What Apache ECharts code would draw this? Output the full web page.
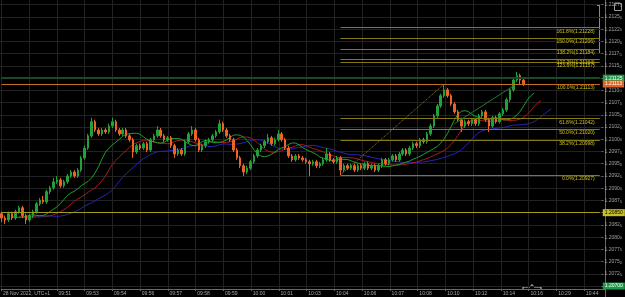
<!DOCTYPE html>
<html><head><meta charset="utf-8">
<script src="https://cdn.jsdelivr.net/npm/echarts@6/dist/echarts.min.js"></script>
<style>html,body{margin:0;padding:0;background:#000;}#c{width:625px;height:297px;}</style>
</head><body><div id="c"></div>
<script>
const dateLabel = '28 Nov 2022, UTC+1';
const timeLabels = ['09:51','09:53','09:54','09:56','09:57','09:58','09:59','10:00','10:01','10:03','10:04','10:06','10:07','10:08','10:10','10:12','10:14','10:16','10:29','10:44'];
const barCount = 174, firstLabelBar = 16, labelEvery = 8;
const priceMin = 1.20700, priceMax = 1.212847, priceStep = 0.00025;

const opens = [
1.20848,1.20839,1.20835,1.20848,1.20839,1.20852,1.20860,1.20844,1.20835,1.20844,
1.20852,1.20868,1.20876,1.20872,1.20893,1.20901,1.20913,1.20917,1.20905,1.20913,
1.20925,1.20933,1.20925,1.20937,1.20962,1.20982,1.21007,1.21036,1.21019,1.21011,
1.21019,1.21015,1.21027,1.21036,1.21019,1.21011,1.21019,1.21007,1.20999,1.20974,
1.20987,1.20982,1.20991,1.20978,1.20999,1.21007,1.21019,1.21007,1.20999,1.21003,
1.20987,1.20970,1.20978,1.20970,1.20995,1.21011,1.21019,1.20999,1.20978,1.20987,
1.20995,1.20999,1.21007,1.21015,1.21032,1.21019,1.21007,1.20999,1.20978,1.20962,
1.20946,1.20933,1.20941,1.20954,1.20966,1.20978,1.20987,1.20995,1.21003,1.20991,
1.20999,1.21011,1.20999,1.20982,1.20966,1.20958,1.20966,1.20962,1.20958,1.20954,
1.20950,1.20954,1.20946,1.20950,1.20958,1.20970,1.20958,1.20954,1.20962,1.20937,
1.20946,1.20941,1.20946,1.20937,1.20946,1.20941,1.20950,1.20941,1.20946,1.20937,
1.20946,1.20958,1.20950,1.20958,1.20966,1.20958,1.20970,1.20978,1.20970,1.20982,
1.20991,1.20987,1.20999,1.20995,1.21011,1.21027,1.21048,1.21068,1.21089,1.21101,
1.21089,1.21072,1.21056,1.21040,1.21027,1.21036,1.21032,1.21040,1.21032,1.21048,
1.21056,1.21040,1.21027,1.21044,1.21036,1.21052,1.21060,1.21081,1.21101,1.21121,
1.21130,1.21121];
const highs = [
1.20852,1.20844,1.20852,1.20852,1.20856,1.20864,1.20864,1.20848,1.20848,1.20856,
1.20872,1.20880,1.20884,1.20897,1.20905,1.20921,1.20925,1.20921,1.20917,1.20929,
1.20937,1.20937,1.20941,1.20966,1.20987,1.21011,1.21044,1.21040,1.21023,1.21023,
1.21023,1.21032,1.21044,1.21040,1.21023,1.21023,1.21023,1.21011,1.21003,1.20991,
1.20991,1.20995,1.20995,1.21003,1.21011,1.21027,1.21023,1.21011,1.21007,1.21007,
1.20991,1.20982,1.20982,1.20999,1.21015,1.21027,1.21023,1.21003,1.20991,1.20999,
1.21003,1.21011,1.21019,1.21040,1.21036,1.21023,1.21011,1.21003,1.20982,1.20966,
1.20950,1.20946,1.20958,1.20970,1.20982,1.20991,1.20999,1.21011,1.21007,1.21003,
1.21019,1.21015,1.21003,1.20987,1.20970,1.20970,1.20970,1.20966,1.20962,1.20958,
1.20958,1.20958,1.20954,1.20962,1.20982,1.20974,1.20962,1.20966,1.20966,1.20950,
1.20950,1.20950,1.20950,1.20950,1.20950,1.20954,1.20954,1.20950,1.20950,1.20950,
1.20962,1.20962,1.20962,1.20970,1.20970,1.20974,1.20982,1.20982,1.20987,1.20995,
1.20995,1.21003,1.21003,1.21015,1.21032,1.21052,1.21072,1.21093,1.21113,1.21105,
1.21093,1.21076,1.21060,1.21044,1.21040,1.21040,1.21044,1.21044,1.21052,1.21060,
1.21060,1.21044,1.21048,1.21048,1.21056,1.21064,1.21085,1.21105,1.21125,1.21138,
1.21134,1.21125];
const lows = [
1.20831,1.20827,1.20831,1.20835,1.20835,1.20848,1.20839,1.20827,1.20831,1.20839,
1.20848,1.20864,1.20868,1.20868,1.20888,1.20897,1.20909,1.20901,1.20901,1.20909,
1.20921,1.20921,1.20921,1.20933,1.20958,1.20978,1.21003,1.21015,1.21007,1.21007,
1.21011,1.21011,1.21023,1.21015,1.21007,1.21007,1.21003,1.20995,1.20962,1.20970,
1.20978,1.20978,1.20974,1.20974,1.20995,1.21003,1.21003,1.20995,1.20995,1.20982,
1.20962,1.20966,1.20966,1.20966,1.20991,1.21007,1.20995,1.20974,1.20974,1.20982,
1.20991,1.20995,1.21003,1.21011,1.21015,1.21003,1.20995,1.20974,1.20958,1.20941,
1.20925,1.20929,1.20937,1.20950,1.20962,1.20974,1.20982,1.20991,1.20987,1.20987,
1.20995,1.20995,1.20978,1.20962,1.20954,1.20954,1.20958,1.20954,1.20950,1.20925,
1.20946,1.20941,1.20941,1.20946,1.20954,1.20954,1.20950,1.20950,1.20927,1.20933,
1.20937,1.20937,1.20933,1.20933,1.20937,1.20937,1.20937,1.20937,1.20933,1.20933,
1.20941,1.20946,1.20946,1.20954,1.20954,1.20954,1.20966,1.20966,1.20966,1.20978,
1.20982,1.20982,1.20991,1.20991,1.21007,1.21023,1.21044,1.21064,1.21085,1.21085,
1.21068,1.21052,1.21036,1.21015,1.21023,1.21027,1.21027,1.21027,1.21027,1.21044,
1.21036,1.21015,1.21023,1.21032,1.21032,1.21048,1.21056,1.21076,1.21097,1.21117,
1.21113,1.21109];
const closes = [
1.20839,1.20835,1.20848,1.20839,1.20852,1.20860,1.20844,1.20835,1.20844,1.20852,
1.20868,1.20876,1.20872,1.20893,1.20901,1.20913,1.20917,1.20905,1.20913,1.20925,
1.20933,1.20925,1.20937,1.20962,1.20982,1.21007,1.21036,1.21019,1.21011,1.21019,
1.21015,1.21027,1.21036,1.21019,1.21011,1.21019,1.21007,1.20999,1.20974,1.20987,
1.20982,1.20991,1.20978,1.20999,1.21007,1.21019,1.21007,1.20999,1.21003,1.20987,
1.20970,1.20978,1.20970,1.20995,1.21011,1.21019,1.20999,1.20978,1.20987,1.20995,
1.20999,1.21007,1.21015,1.21032,1.21019,1.21007,1.20999,1.20978,1.20962,1.20946,
1.20933,1.20941,1.20954,1.20966,1.20978,1.20987,1.20995,1.21003,1.20991,1.20999,
1.21011,1.20999,1.20982,1.20966,1.20958,1.20966,1.20962,1.20958,1.20954,1.20950,
1.20954,1.20946,1.20950,1.20958,1.20970,1.20958,1.20954,1.20962,1.20937,1.20946,
1.20941,1.20946,1.20937,1.20946,1.20941,1.20950,1.20941,1.20946,1.20937,1.20946,
1.20958,1.20950,1.20958,1.20966,1.20958,1.20970,1.20978,1.20970,1.20982,1.20991,
1.20987,1.20999,1.20995,1.21011,1.21027,1.21048,1.21068,1.21089,1.21101,1.21089,
1.21072,1.21056,1.21040,1.21027,1.21036,1.21032,1.21040,1.21032,1.21048,1.21056,
1.21040,1.21027,1.21044,1.21036,1.21052,1.21060,1.21081,1.21101,1.21121,1.21130,
1.21121,1.21113];

const fibNames = ['161.8%','150.0%','138.2%','127.2%','123.6%','100.0%','61.8%','50.0%','38.2%','0.0%'];
const fibValues = [1.21228,1.21206,1.21184,1.21164,1.21157,1.21113,1.21042,1.21020,1.20998,1.20927];
const fibBars = [98, 128];            // bar of the 0% low, bar of the 100% high
const lastBar = 173;
const trendBars = [131, 148];
const trendValues = [1.21032, 1.21109];
const askPrice = 1.21125, bidPrice = 1.21113, levelPrice = 1.20850, bottomTag = 1.20700;
const alligator = {jaw:[13,8], teeth:[8,5], lips:[5,3]};

// ---- build ----
const cats = [];
for (let i = 0; i < barCount; i++) {
  let s = '';
  if (i === 0) s = dateLabel;
  else if (i >= firstLabelBar && (i - firstLabelBar) % labelEvery === 0) s = timeLabels[(i - firstLabelBar) / labelEvery] || '';
  cats.push(s);
}
const candleData = closes.map((c, i) => [opens[i], c, lows[i], highs[i]]);
const medians = highs.map((h, i) => (h + lows[i]) / 2);
function smma(src, n) { const out = []; let v = src[0]; for (let i = 0; i < src.length; i++) { v = i === 0 ? src[0] : (v * (n - 1) + src[i]) / n; out.push(v); } return out; }
function shifted(arr, s) { const out = new Array(barCount).fill(null); arr.forEach((v, i) => { if (i + s < barCount) out[i + s] = v; }); return out; }

const FONT = 'Liberation Sans';
const hideTicks = [askPrice, levelPrice, bottomTag];

const fibLines = fibValues.map((v, k) => [
  {coord: [fibBars[0], v], lineStyle: {color: '#857a14', width: 1, type: 'solid'},
   label: {show: true, position: 'insideEndBottom', distance: [5, 1], formatter: fibNames[k] + '(' + v.toFixed(5) + ')',
           color: '#d0c020', fontSize: 5, fontFamily: FONT}},
  {coord: [lastBar, v]}
]);
const tag = (v, bg, fg, lc, lw) => [
  {coord: [0, v], lineStyle: {color: lc, width: lw, type: 'solid', opacity: 1},
   label: {show: true, position: 'end', distance: 3, formatter: v.toFixed(5), backgroundColor: bg, color: fg, opacity: 1,
           fontSize: 5, fontFamily: FONT, padding: [1, 2, 1, 2]}},
  {coord: [lastBar, v]}
];

const chart = echarts.init(document.getElementById('c'), null, {renderer: 'canvas'});
chart.setOption({
  backgroundColor: '#000',
  animation: false,
  grid: [
    {left: 0, right: 20, top: 0, bottom: 10.94, containLabel: false},
    {left: 0, right: 20, top: 0, bottom: 8, containLabel: false}
  ],
  xAxis: [
    {type: 'category', gridIndex: 0, data: cats, boundaryGap: true, show: false},
    {type: 'category', gridIndex: 1, data: cats, boundaryGap: true,
     axisLine: {show: true, lineStyle: {color: '#6a6a6a', width: 1}},
     axisTick: {show: true, length: 2, interval: (i) => i % labelEvery === 0, lineStyle: {color: '#6a6a6a'}},
     axisLabel: {show: true, interval: (i, v) => v !== '', align: 'left', margin: 2, fontSize: 5, color: '#a8a8a8', fontFamily: FONT},
     splitLine: {show: true, interval: (i) => i % labelEvery === 0, lineStyle: {color: '#222222', width: 1}}}
  ],
  yAxis: [
    {type: 'value', gridIndex: 0, position: 'right', min: priceMin, max: priceMax, interval: priceStep,
     axisLine: {show: false},
     axisTick: {show: true, length: 2, lineStyle: {color: '#6a6a6a'}},
     axisLabel: {show: true, margin: 3, fontFamily: FONT, showMaxLabel: false,
       formatter: (v) => { if (hideTicks.some(h => Math.abs(h - v) < 0.000005)) return ''; const s = v.toFixed(5); return '{a|' + s.slice(0, 6) + '}{b|' + s.slice(6) + '}'; },
       rich: {a: {fontSize: 5, color: '#a0a0a0', fontFamily: FONT}, b: {fontSize: 4, color: '#a0a0a0', fontFamily: FONT, padding: [2, 0, 0, 0]}}},
     splitLine: {show: true, showMaxLine: false, lineStyle: {color: '#222222', width: 1}}},
    {type: 'value', gridIndex: 1, position: 'right', min: 0, max: 1,
     axisLine: {show: true, lineStyle: {color: '#6a6a6a', width: 1}}, axisTick: {show: false}, axisLabel: {show: false}, splitLine: {show: false}}
  ],
  series: [
    {type: 'line', xAxisIndex: 0, yAxisIndex: 0, data: shifted(smma(medians, alligator.jaw[0]), alligator.jaw[1]),
     symbol: 'none', lineStyle: {color: '#2626b8', width: 1}, z: 3},
    {type: 'line', xAxisIndex: 0, yAxisIndex: 0, data: shifted(smma(medians, alligator.teeth[0]), alligator.teeth[1]),
     symbol: 'none', lineStyle: {color: '#a81c1c', width: 1}, z: 3},
    {type: 'line', xAxisIndex: 0, yAxisIndex: 0, data: shifted(smma(medians, alligator.lips[0]), alligator.lips[1]),
     symbol: 'none', lineStyle: {color: '#1ea02c', width: 1}, z: 3},
    {type: 'candlestick', xAxisIndex: 0, yAxisIndex: 0, data: candleData, barWidth: 2, z: 4,
     itemStyle: {color: '#22a03a', color0: '#ea6428', borderColor: '#22a03a', borderColor0: '#ea6428', borderWidth: 1},
     markLine: {silent: true, symbol: ['none', 'none'], animation: false, label: {show: false},
       data: [
         ...fibLines,
         [{coord: [fibBars[0], fibValues[9]], lineStyle: {color: '#8a8420', width: 1, type: 'dotted'}, label: {show: false}},
          {coord: [fibBars[1], fibValues[5]]}],
         [{coord: [trendBars[0], trendValues[0]], lineStyle: {color: '#1f7a36', width: 1, type: 'solid'}, label: {show: false}},
          {coord: [trendBars[1], trendValues[1]]}],
         tag(levelPrice, '#c8c020', '#000', '#a49c1c', 1),
         tag(askPrice, '#1f9a48', '#fff', '#184a2a', 2),
         tag(bidPrice, '#e2632a', '#fff', '#c0701e', 1),
         tag(bottomTag, '#1f9a48', '#fff', 'rgba(0,0,0,0)', 1)
       ]}}
  ],
  graphic: [
    {type: 'line', shape: {x1: 605.5, y1: 289, x2: 605.5, y2: 297}, style: {stroke: '#6a6a6a', lineWidth: 1}, silent: true},
    {type: 'polyline', shape: {points: [[523, 290], [523, 287], [530, 287], [532, 284.5], [534, 287], [541, 287], [541, 290]]},
     style: {stroke: '#cfcfcf', fill: null, lineWidth: 1}, silent: true},
    {type: 'line', shape: {x1: 599.5, y1: 5, x2: 599.5, y2: 53}, style: {stroke: '#8a8a8a', lineWidth: 1}, silent: true},
    {type: 'line', shape: {x1: 597, y1: 5.5, x2: 600, y2: 5.5}, style: {stroke: '#8a8a8a', lineWidth: 1}, silent: true},
    {type: 'rect', shape: {x: 614.5, y: 3.5, width: 7, height: 7}, style: {stroke: '#9a9a9a', fill: null, lineWidth: 1}, silent: true}
  ]
});
</script></body></html>
